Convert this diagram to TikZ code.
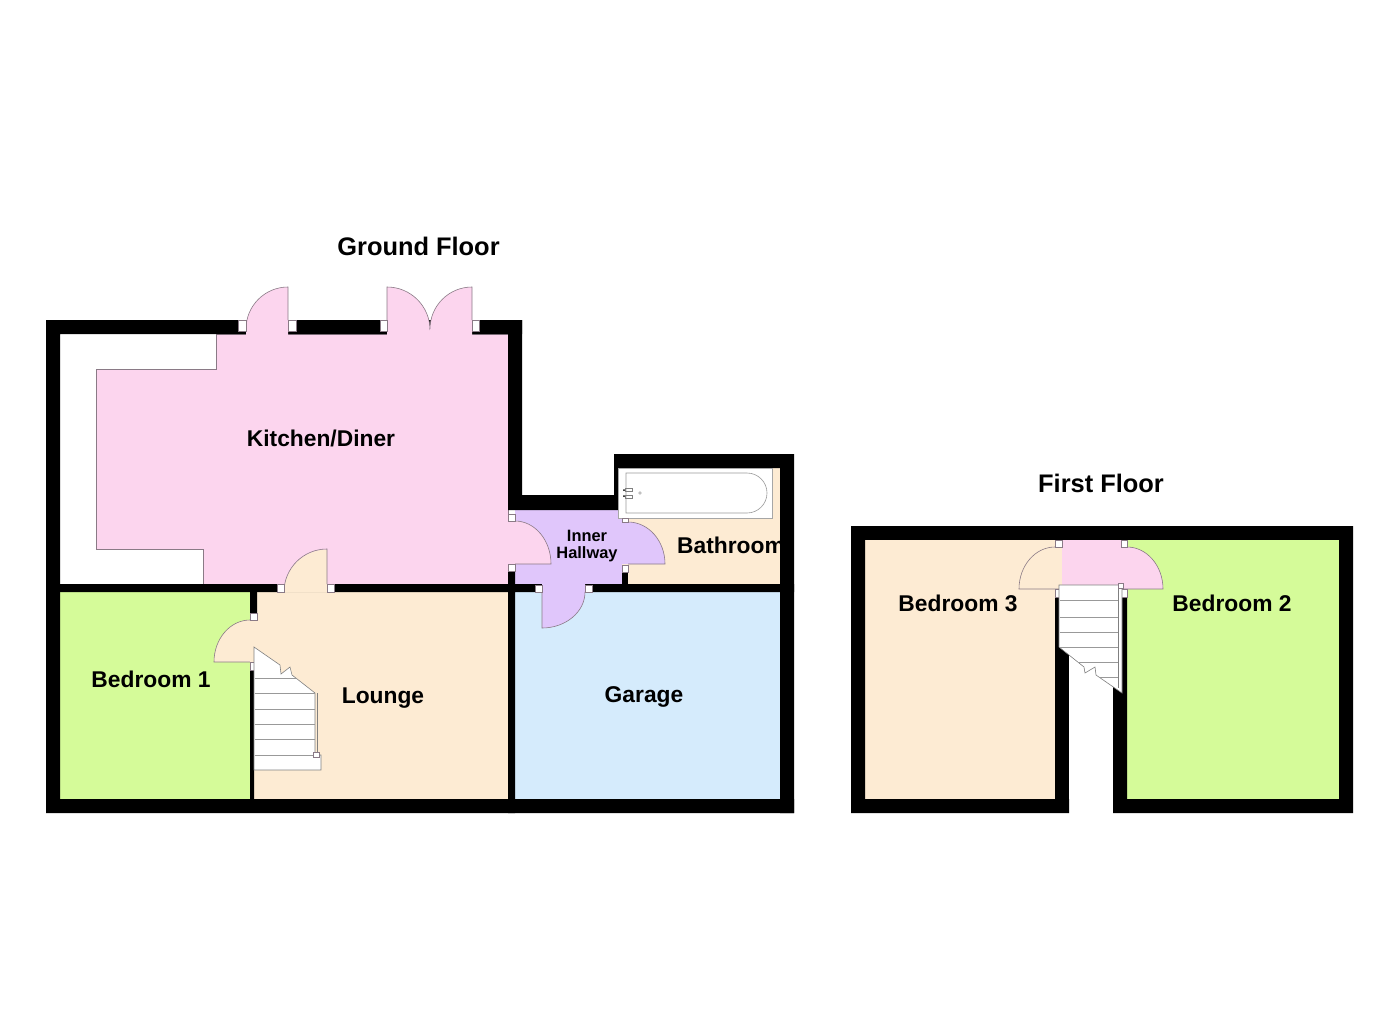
\documentclass[tikz,border=0pt]{standalone}
\usepackage{fontspec}
\setmainfont{Liberation Sans}
\definecolor{kitchenpink}{HTML}{FCD5EE}
\definecolor{loungecream}{HTML}{FDEBD3}
\definecolor{bedgreen}{HTML}{D5FB99}
\definecolor{garageblue}{HTML}{D5EBFC}
\definecolor{hallpurple}{HTML}{E0C6FB}
\definecolor{doorgrey}{HTML}{8A7A86}
\begin{document}
\begin{tikzpicture}[x=1pt, y=-1pt,
	roomlabel/.style = {font=\bfseries\fontsize{22.8}{24}\selectfont, inner sep=0pt},
	floorlabel/.style = {font=\bfseries\fontsize{25.4}{26}\selectfont, inner sep=0pt},
	halllabel/.style = {font=\bfseries\fontsize{16.4}{16.5}\selectfont, align=center, inner sep=0pt},
	wall/.style = {fill=black},
	doorleaf/.style = {draw=doorgrey, line width=0.6pt},
	jamb/.style = {draw=doorgrey, fill=white, line width=0.4pt},
	stairs/.style = {draw=gray, fill=white, line width=0.6pt},
	tread/.style = {draw=gray!80, line width=0.9pt}]
	\useasboundingbox (0,0) rectangle (1400,1018);
	% ground floor rooms
	\filldraw[fill=kitchenpink, draw=doorgrey, line width=0.4pt] (216,334) -- (508,334) -- (508,584) -- (203,584) -- (203,549) -- (96,549) -- (96,369) -- (216,369) -- cycle;
	\fill[bedgreen] (60,592) rectangle (250,799);
	\fill[loungecream] (254,592) rectangle (508,799);
	\fill[garageblue] (515,592) rectangle (780,799);
	\fill[loungecream] (622,468) rectangle (780,585);
	\fill[hallpurple] (515,510) rectangle (622,585);
	% first floor rooms
	\fill[loungecream] (865,540) rectangle (1062,799);
	\fill[bedgreen] (1121,540) rectangle (1339,799);
	\fill[kitchenpink] (1062,540) rectangle (1121,590);
	% labels
	\node[floorlabel] (groundfloor) at (418.5,246) {Ground Floor};
	\node[floorlabel] (firstfloor) at (1101,483) {First Floor};
	\node[roomlabel] (kitchen) at (321,438) {Kitchen/Diner};
	\node[roomlabel] (bedroom1) at (151,679) {Bedroom 1};
	\node[roomlabel] (lounge) at (383,698) {Lounge};
	\node[roomlabel] (garage) at (644,697) {Garage};
	\node[roomlabel, anchor=west] (bathroom) at (677,545) {Bathroom};
	\node[roomlabel] (bedroom3) at (958,603) {Bedroom 3};
	\node[roomlabel] (bedroom2) at (1232,603) {Bedroom 2};
	\node[halllabel] (hallway) at (587,546) {Inner\\Hallway};
	% ground floor walls
	\fill[wall] (46,320) rectangle (522,334) (46,320) rectangle (60,813) (46,799) rectangle (794,813);
	\fill[wall] (508,320) rectangle (522,510) (508,495) rectangle (618,510) (614,454) rectangle (628,510);
	\fill[wall] (614,454) rectangle (794,468) (780,454) rectangle (794,813);
	\fill[wall] (46,584) rectangle (794,592) (508,571) rectangle (515,813);
	\fill[wall] (250,592) rectangle (257,613) (250,670) rectangle (254,799);
	\fill[wall] (622,572) rectangle (628,592);
	% ground floor doors
	\fill[kitchenpink] (246,329) arc (180:270:42) -- (288,335) -- (246,335) -- cycle;
	\draw[doorleaf] (246,329) arc (180:270:42) -- (288,320);
	\fill[kitchenpink] (387,287) arc (270:360:43) -- (430,335) -- (387,335) -- cycle;
	\draw[doorleaf] (387,320) -- (387,287) arc (270:360:43);
	\fill[kitchenpink] (472,287) arc (270:180:42) -- (430,335) -- (472,335) -- cycle;
	\draw[doorleaf] (472,320) -- (472,287) arc (270:180:42);
	\fill[loungecream] (284,592.5) arc (180:270:43) -- (327,592.5) -- cycle;
	\draw[doorleaf] (284,592) arc (180:270:43) -- (327,584);
	\fill[loungecream] (250,620) arc (270:180:36 and 42) -- (254,662) -- (254,620) -- cycle;
	\draw[doorleaf] (250,620) arc (270:180:36 and 42) -- (254,662);
	\fill[loungecream] (250,620) rectangle (257,662);
	\fill[kitchenpink] (515,521) arc (270:360:36 and 43) -- (508,564) -- (508,521) -- cycle;
	\draw[doorleaf] (515,521) arc (270:360:36 and 43) -- (515,564);
	\fill[hallpurple] (628,522) arc (270:360:37 and 42) -- (621,564) -- (621,522) -- cycle;
	\draw[doorleaf] (628,522) arc (270:360:37 and 42) -- (628,564);
	\fill[hallpurple] (585,592) arc (0:90:43 and 36) -- (542,584) -- (585,584) -- cycle;
	\draw[doorleaf] (585,592) arc (0:90:43 and 36) -- (542,592);
	\foreach \jx/\jy/\jw/\jh in {238/320/8/11, 288/320/8/11, 380/320/7/11, 472/320/7/11,
		277/584/7/8, 327/584/7/8, 250/613/7/7, 250/662/4/8,
		508/514/7/7, 508/564/7/7, 622/565/6/7, 535/585/7/7, 585/585/7/7}
		\filldraw[jamb] (\jx,\jy) rectangle ++(\jw,\jh);
	% bath
	\filldraw[draw=gray!70, fill=white, line width=0.5pt] (618,468) rectangle (772,518);
	\draw[draw=gray!80, line width=0.6pt] (626,473) -- (747,473) arc (270:450:20) -- (626,513) -- cycle;
	\filldraw[jamb] (622,518) rectangle (628,522);
	\draw[gray, line width=0.5pt] (625,488.5) rectangle (632,491.5) (625,495) rectangle (632,498);
	\fill[black] (624,490) circle (1) (624,496) circle (1);
	\draw[gray, line width=0.4pt] (640,493) circle (1.4);
	% ground floor stairs
	\filldraw[stairs] (254,647) -- (280,665) -- (281,674) -- (290,667) -- (292,675) -- (315,693) -- (315,755) -- (321,755) -- (321,770) -- (254,770) -- cycle;
	\foreach \ty/\tx in {678/296,693/315,709/315,724/315,739/315,755/315}
		\draw[tread] (254.5,\ty) -- (\tx,\ty);
	\draw[gray, line width=0.6pt] (317,693) -- (317,752);
	\filldraw[jamb] (313,752) rectangle (319,757);
	% first floor walls
	\fill[wall] (851,526) rectangle (1353,540);
	\fill[wall] (851,526) rectangle (865,813) (851,799) rectangle (1069,813) (1055,597) rectangle (1069,813);
	\fill[wall] (1339,526) rectangle (1353,813) (1113,799) rectangle (1353,813) (1113,597) rectangle (1127,813);
	% first floor doors
	\fill[loungecream] (1055,547) arc (270:180:36 and 42) -- (1062,589) -- (1062,547) -- cycle;
	\draw[doorleaf] (1055,547) arc (270:180:36 and 42) -- (1062,589);
	\fill[kitchenpink] (1127,547) arc (270:360:36 and 42) -- (1121,589) -- (1121,547) -- cycle;
	\draw[doorleaf] (1127,547) arc (270:360:36 and 42) -- (1121,589);
	\fill[kitchenpink] (1062,547) rectangle (1127,584);
	\foreach \jx/\jy/\jw/\jh in {1055/540/7/7, 1121/540/6/7, 1055/589/7/8, 1121/589/6/8}
		\filldraw[jamb] (\jx,\jy) rectangle ++(\jw,\jh);
	% first floor stairs
	\fill[white] (1069,655) rectangle (1113,799);
	\filldraw[stairs] (1059,585) -- (1122,585) -- (1122,693) -- (1096,675) -- (1095,667) -- (1085,673) -- (1084,667) -- (1059,647) -- cycle;
	\foreach \ty/\tx in {600/1059.5,617/1059.5,632/1059.5,647/1059.5,662/1078,677/1099}
		\draw[tread] (\tx,\ty) -- (1118,\ty);
	\draw[gray, line width=0.6pt] (1118.5,586) -- (1118.5,688);
	\filldraw[jamb] (1118,583) rectangle (1123,588);
\end{tikzpicture}
\end{document}
